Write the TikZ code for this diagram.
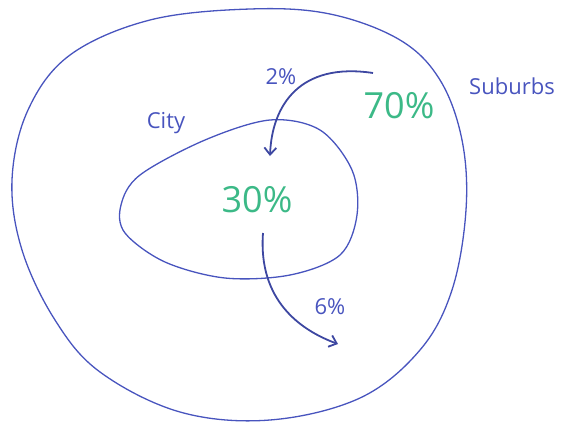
\documentclass[tikz,border=0pt]{standalone}
\usepackage{fontspec}
\setmainfont{Open Sans}
\usetikzlibrary{arrows.meta}
\definecolor{penblue}{RGB}{72,84,190}
\definecolor{pengreen}{RGB}{60,185,135}
\tikzset{
  blob/.style={draw=penblue, line width=1.3pt},
  flow/.style={draw=penblue!85!black, line width=1.8pt, -{Straight Barb[length=7pt,width=12pt]}},
  bluetext/.style={text=penblue, font=\fontsize{22}{24}\selectfont},
  greentext/.style={text=pengreen, font=\fontsize{36}{38}\selectfont}
}
\begin{document}
\begin{tikzpicture}[x=1pt,y=-1pt]
\useasboundingbox (0,0) rectangle (578,424);
% outer blob (suburbs)
\draw[blob] plot[smooth cycle, tension=0.6] coordinates {
 (250,9) (330,14) (400,40) (440,80) (462,140) (466,210) (452,290)
 (420,350) (360,398) (270,420) (180,412) (100,372) (55,320)
 (22,250) (12,180) (28,110) (70,55) (150,20)};
% inner blob (city)
\draw[blob] plot[smooth cycle, tension=0.55] coordinates {
 (121,205) (140,175) (205,140) (270,120) (320,130) (352,170)
 (357,215) (340,255) (290,275) (225,278) (165,262) (125,233)};
% labels
\node[bluetext] (suburbs) at (512,86) {Suburbs};
\node[bluetext] (city) at (166,123) {City};
\node[greentext] (seventy) at (399,106) {70\%};
\node[greentext] (thirty) at (257,200) {30\%};
\node[bluetext] (two) at (281,77) {2\%};
\node[bluetext] (six) at (330,307) {6\%};
% flows
\coordinate (a1s) at (373,73);
\coordinate (a1e) at (270,156);
\coordinate (a2s) at (263,233);
\coordinate (a2e) at (338,344);
\draw[flow] (a1s) .. controls (300,62) and (272,105) .. (a1e);
\draw[flow] (a2s) .. controls (258,300) and (300,330) .. (a2e);
\end{tikzpicture}
\end{document}
